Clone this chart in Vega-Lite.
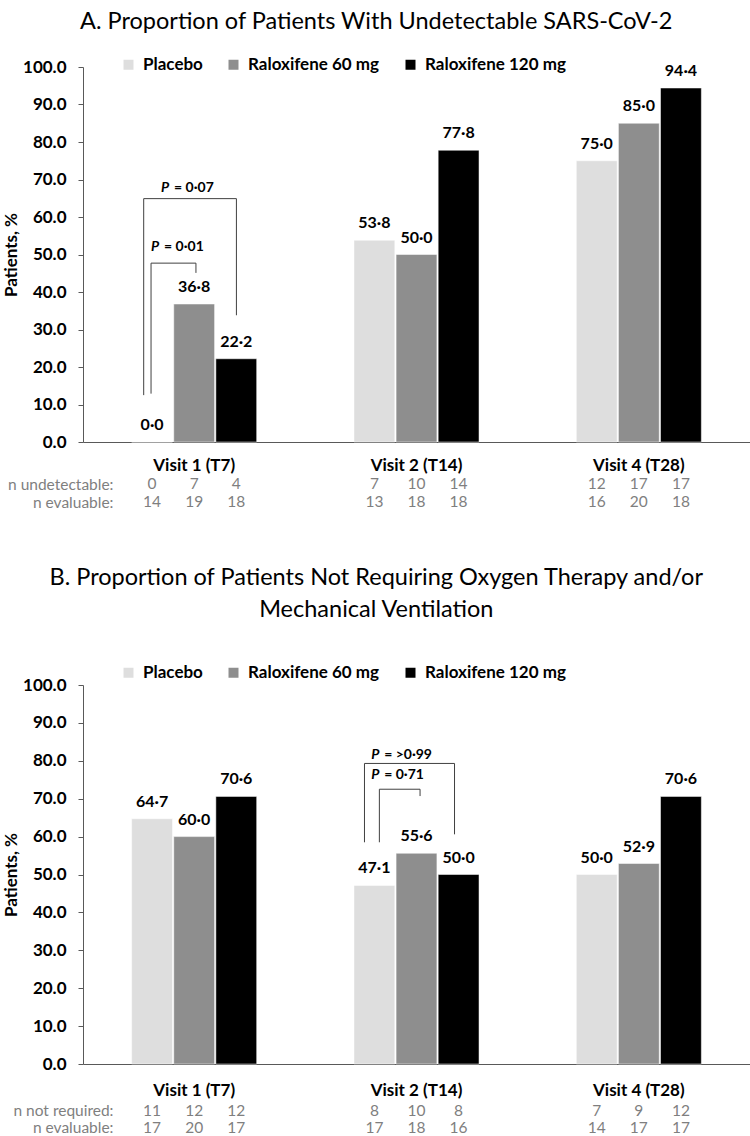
{
  "$schema": "https://vega.github.io/schema/vega-lite/v6.json",
  "padding": {"left": 2, "top": 9, "right": 0, "bottom": 0},
  "background": "white",
  "config": {
    "font": "Lato",
    "view": {"stroke": null},
    "axis": {"labelFont": "Lato", "labelFontWeight": "bold", "labelFontSize": 17, "labelColor": "#000", "domainColor": "#595959", "tickColor": "#595959", "grid": false, "titleFont": "Lato", "titleFontWeight": "bold", "titleFontSize": 17, "titleColor": "#000", "labelOverlap": false},
    "axisQuantitative": {"values": [0, 10, 20, 30, 40, 50, 60, 70, 80, 90, 100], "format": ".1f", "tickSize": 5, "labelPadding": 12, "titlePadding": 2, "labelOverlap": false},
    "title": {"font": "Lato", "fontSize": 23.5, "fontWeight": "normal", "frame": "bounds", "anchor": "middle", "color": "#000"},
    "legend": {"orient": "none", "direction": "horizontal", "columns": 3, "symbolType": "square", "symbolSize": 100, "symbolStrokeWidth": 0, "labelFont": "Lato", "labelFontWeight": "bold", "labelFontSize": 17, "labelColor": "#000", "columnPadding": 22, "labelOffset": 6}
  },
  "datasets": {
    "barsA": [
      {"visit": "Visit 1 (T7)", "group": "Placebo", "value": 0.0, "label": "0·0"},
      {"visit": "Visit 1 (T7)", "group": "Raloxifene 60 mg", "value": 36.8, "label": "36·8"},
      {"visit": "Visit 1 (T7)", "group": "Raloxifene 120 mg", "value": 22.2, "label": "22·2"},
      {"visit": "Visit 2 (T14)", "group": "Placebo", "value": 53.8, "label": "53·8"},
      {"visit": "Visit 2 (T14)", "group": "Raloxifene 60 mg", "value": 50.0, "label": "50·0"},
      {"visit": "Visit 2 (T14)", "group": "Raloxifene 120 mg", "value": 77.8, "label": "77·8"},
      {"visit": "Visit 4 (T28)", "group": "Placebo", "value": 75.0, "label": "75·0"},
      {"visit": "Visit 4 (T28)", "group": "Raloxifene 60 mg", "value": 85.0, "label": "85·0"},
      {"visit": "Visit 4 (T28)", "group": "Raloxifene 120 mg", "value": 94.4, "label": "94·4"}
    ],
    "nA": [
      {"visit": "Visit 1 (T7)", "group": "Placebo", "row": "n undetectable:", "n": 0},
      {"visit": "Visit 1 (T7)", "group": "Raloxifene 60 mg", "row": "n undetectable:", "n": 7},
      {"visit": "Visit 1 (T7)", "group": "Raloxifene 120 mg", "row": "n undetectable:", "n": 4},
      {"visit": "Visit 2 (T14)", "group": "Placebo", "row": "n undetectable:", "n": 7},
      {"visit": "Visit 2 (T14)", "group": "Raloxifene 60 mg", "row": "n undetectable:", "n": 10},
      {"visit": "Visit 2 (T14)", "group": "Raloxifene 120 mg", "row": "n undetectable:", "n": 14},
      {"visit": "Visit 4 (T28)", "group": "Placebo", "row": "n undetectable:", "n": 12},
      {"visit": "Visit 4 (T28)", "group": "Raloxifene 60 mg", "row": "n undetectable:", "n": 17},
      {"visit": "Visit 4 (T28)", "group": "Raloxifene 120 mg", "row": "n undetectable:", "n": 17},
      {"visit": "Visit 1 (T7)", "group": "Placebo", "row": "n evaluable:", "n": 14},
      {"visit": "Visit 1 (T7)", "group": "Raloxifene 60 mg", "row": "n evaluable:", "n": 19},
      {"visit": "Visit 1 (T7)", "group": "Raloxifene 120 mg", "row": "n evaluable:", "n": 18},
      {"visit": "Visit 2 (T14)", "group": "Placebo", "row": "n evaluable:", "n": 13},
      {"visit": "Visit 2 (T14)", "group": "Raloxifene 60 mg", "row": "n evaluable:", "n": 18},
      {"visit": "Visit 2 (T14)", "group": "Raloxifene 120 mg", "row": "n evaluable:", "n": 18},
      {"visit": "Visit 4 (T28)", "group": "Placebo", "row": "n evaluable:", "n": 16},
      {"visit": "Visit 4 (T28)", "group": "Raloxifene 60 mg", "row": "n evaluable:", "n": 20},
      {"visit": "Visit 4 (T28)", "group": "Raloxifene 120 mg", "row": "n evaluable:", "n": 18}
    ],
    "bracketA": [
      {"b": "outer", "i": 0, "x": 0.273, "y": 12.5},
      {"b": "outer", "i": 1, "x": 0.273, "y": 64.9},
      {"b": "outer", "i": 2, "x": 0.690, "y": 64.9},
      {"b": "outer", "i": 3, "x": 0.690, "y": 33.8},
      {"b": "inner", "i": 0, "x": 0.306, "y": 12.9},
      {"b": "inner", "i": 1, "x": 0.306, "y": 47.7},
      {"b": "inner", "i": 2, "x": 0.508, "y": 47.7},
      {"b": "inner", "i": 3, "x": 0.508, "y": 45.1}
    ],
    "pA": [
      {"x": 0.351, "y": 66.7, "t": "= 0·07"},
      {"x": 0.306, "y": 50.9, "t": "= 0·01"}
    ],
    "barsB": [
      {"visit": "Visit 1 (T7)", "group": "Placebo", "value": 64.7, "label": "64·7"},
      {"visit": "Visit 1 (T7)", "group": "Raloxifene 60 mg", "value": 60.0, "label": "60·0"},
      {"visit": "Visit 1 (T7)", "group": "Raloxifene 120 mg", "value": 70.6, "label": "70·6"},
      {"visit": "Visit 2 (T14)", "group": "Placebo", "value": 47.1, "label": "47·1"},
      {"visit": "Visit 2 (T14)", "group": "Raloxifene 60 mg", "value": 55.6, "label": "55·6"},
      {"visit": "Visit 2 (T14)", "group": "Raloxifene 120 mg", "value": 50.0, "label": "50·0"},
      {"visit": "Visit 4 (T28)", "group": "Placebo", "value": 50.0, "label": "50·0"},
      {"visit": "Visit 4 (T28)", "group": "Raloxifene 60 mg", "value": 52.9, "label": "52·9"},
      {"visit": "Visit 4 (T28)", "group": "Raloxifene 120 mg", "value": 70.6, "label": "70·6"}
    ],
    "nB": [
      {"visit": "Visit 1 (T7)", "group": "Placebo", "row": "n not required:", "n": 11},
      {"visit": "Visit 1 (T7)", "group": "Raloxifene 60 mg", "row": "n not required:", "n": 12},
      {"visit": "Visit 1 (T7)", "group": "Raloxifene 120 mg", "row": "n not required:", "n": 12},
      {"visit": "Visit 2 (T14)", "group": "Placebo", "row": "n not required:", "n": 8},
      {"visit": "Visit 2 (T14)", "group": "Raloxifene 60 mg", "row": "n not required:", "n": 10},
      {"visit": "Visit 2 (T14)", "group": "Raloxifene 120 mg", "row": "n not required:", "n": 8},
      {"visit": "Visit 4 (T28)", "group": "Placebo", "row": "n not required:", "n": 7},
      {"visit": "Visit 4 (T28)", "group": "Raloxifene 60 mg", "row": "n not required:", "n": 9},
      {"visit": "Visit 4 (T28)", "group": "Raloxifene 120 mg", "row": "n not required:", "n": 12},
      {"visit": "Visit 1 (T7)", "group": "Placebo", "row": "n evaluable:", "n": 17},
      {"visit": "Visit 1 (T7)", "group": "Raloxifene 60 mg", "row": "n evaluable:", "n": 20},
      {"visit": "Visit 1 (T7)", "group": "Raloxifene 120 mg", "row": "n evaluable:", "n": 17},
      {"visit": "Visit 2 (T14)", "group": "Placebo", "row": "n evaluable:", "n": 17},
      {"visit": "Visit 2 (T14)", "group": "Raloxifene 60 mg", "row": "n evaluable:", "n": 18},
      {"visit": "Visit 2 (T14)", "group": "Raloxifene 120 mg", "row": "n evaluable:", "n": 16},
      {"visit": "Visit 4 (T28)", "group": "Placebo", "row": "n evaluable:", "n": 14},
      {"visit": "Visit 4 (T28)", "group": "Raloxifene 60 mg", "row": "n evaluable:", "n": 17},
      {"visit": "Visit 4 (T28)", "group": "Raloxifene 120 mg", "row": "n evaluable:", "n": 17}
    ],
    "bracketB": [
      {"b": "outer", "i": 0, "x": 1.266, "y": 58.5},
      {"b": "outer", "i": 1, "x": 1.266, "y": 79.3},
      {"b": "outer", "i": 2, "x": 1.671, "y": 79.3},
      {"b": "outer", "i": 3, "x": 1.671, "y": 60.6},
      {"b": "inner", "i": 0, "x": 1.333, "y": 58.5},
      {"b": "inner", "i": 1, "x": 1.333, "y": 72.5},
      {"b": "inner", "i": 2, "x": 1.516, "y": 72.5},
      {"b": "inner", "i": 3, "x": 1.516, "y": 70.7}
    ],
    "pB": [
      {"x": 1.296, "y": 80.6, "t": "= >0·99"},
      {"x": 1.296, "y": 75.1, "t": "= 0·71"}
    ]
  },
  "resolve": {"legend": {"color": "independent"}},
  "spacing": 54,
  "vconcat": [
    {
      "spacing": 2,
      "resolve": {"legend": {"color": "independent"}},
      "vconcat": [
        {
          "title": {"text": "A. Proportion of Patients With Undetectable SARS-CoV-2", "offset": 23},
          "width": 667,
          "height": 375,
          "resolve": {"scale": {"x": "independent"}},
          "layer": [
            {
              "data": {"name": "barsA"},
              "layer": [
                {
                  "mark": {"type": "bar", "stroke": "white", "strokeWidth": 0.5},
                  "encoding": {
                    "x": {"field": "visit", "type": "nominal", "sort": ["Visit 1 (T7)", "Visit 2 (T14)", "Visit 4 (T28)"], "scale": {"paddingInner": 0.4376, "paddingOuter": 0.2188}, "axis": {"title": null, "ticks": false, "labelAngle": 0, "labelPadding": 15}},
                    "xOffset": {"field": "group", "type": "nominal", "sort": ["Placebo", "Raloxifene 60 mg", "Raloxifene 120 mg"], "scale": {"paddingInner": 0.03}},
                    "y": {"field": "value", "type": "quantitative", "title": "Patients, %", "scale": {"domain": [0, 100]}},
                    "color": {"field": "group", "type": "nominal", "sort": ["Placebo", "Raloxifene 60 mg", "Raloxifene 120 mg"], "scale": {"domain": ["Placebo", "Raloxifene 60 mg", "Raloxifene 120 mg"], "range": ["#dedede", "#8e8e8e", "#000000"]}, "legend": {"title": null, "legendX": 37, "legendY": -11}}
                  }
                },
                {
                  "mark": {"type": "text", "baseline": "alphabetic", "dy": -12, "fontWeight": "bold", "fontSize": 16, "color": "#000"},
                  "encoding": {
                    "x": {"field": "visit", "type": "nominal", "sort": ["Visit 1 (T7)", "Visit 2 (T14)", "Visit 4 (T28)"]},
                    "xOffset": {"field": "group", "type": "nominal", "sort": ["Placebo", "Raloxifene 60 mg", "Raloxifene 120 mg"]},
                    "y": {"field": "value", "type": "quantitative", "title": "Patients, %"},
                    "text": {"field": "label"}
                  }
                }
              ]
            },
            {
              "data": {"name": "bracketA"},
              "mark": {"type": "line", "color": "#404040", "strokeWidth": 1},
              "encoding": {
                "x": {"field": "x", "type": "quantitative", "scale": {"domain": [0, 3], "nice": false, "zero": false}, "axis": null},
                "y": {"field": "y", "type": "quantitative", "title": "Patients, %"},
                "detail": {"field": "b"},
                "order": {"field": "i"}
              }
            },
            {
              "data": {"name": "pA"},
              "layer": [
                {
                  "mark": {"type": "text", "align": "left", "baseline": "alphabetic", "fontWeight": "bold", "fontStyle": "italic", "fontSize": 14, "color": "#000", "text": "P"},
                  "encoding": {
                    "x": {"field": "x", "type": "quantitative", "scale": {"domain": [0, 3], "nice": false, "zero": false}, "axis": null},
                    "y": {"field": "y", "type": "quantitative", "title": "Patients, %"}
                  }
                },
                {
                  "mark": {"type": "text", "align": "left", "baseline": "alphabetic", "dx": 13, "fontWeight": "bold", "fontSize": 14, "color": "#000"},
                  "encoding": {
                    "x": {"field": "x", "type": "quantitative"},
                    "y": {"field": "y", "type": "quantitative", "title": "Patients, %"},
                    "text": {"field": "t"}
                  }
                }
              ]
            }
          ]
        },
        {
          "width": 667,
          "height": 36,
          "data": {"name": "nA"},
          "mark": {"type": "text", "fontSize": 15.5, "color": "#7f7f7f"},
          "encoding": {
            "x": {"field": "visit", "type": "nominal", "sort": ["Visit 1 (T7)", "Visit 2 (T14)", "Visit 4 (T28)"], "scale": {"type": "band", "paddingInner": 0.4376, "paddingOuter": 0.2188}, "axis": null},
            "xOffset": {"field": "group", "type": "nominal", "sort": ["Placebo", "Raloxifene 60 mg", "Raloxifene 120 mg"], "scale": {"type": "band", "paddingInner": 0.03}},
            "y": {"field": "row", "type": "nominal", "sort": ["n undetectable:", "n evaluable:"], "axis": {"title": null, "domain": false, "ticks": false, "labelPadding": -30, "labelFontWeight": "normal", "labelFontSize": 15.5, "labelColor": "#7f7f7f"}},
            "text": {"field": "n"}
          }
        }
      ]
    },
    {
      "spacing": 4,
      "resolve": {"legend": {"color": "independent"}},
      "vconcat": [
        {
          "title": {"text": ["B. Proportion of Patients Not Requiring Oxygen Therapy and/or", "Mechanical Ventilation"], "lineHeight": 32, "offset": 43},
          "width": 667,
          "height": 379,
          "resolve": {"scale": {"x": "independent"}},
          "layer": [
            {
              "data": {"name": "barsB"},
              "layer": [
                {
                  "mark": {"type": "bar", "stroke": "white", "strokeWidth": 0.5},
                  "encoding": {
                    "x": {"field": "visit", "type": "nominal", "sort": ["Visit 1 (T7)", "Visit 2 (T14)", "Visit 4 (T28)"], "scale": {"paddingInner": 0.4376, "paddingOuter": 0.2188}, "axis": {"title": null, "ticks": false, "labelAngle": 0, "labelPadding": 18}},
                    "xOffset": {"field": "group", "type": "nominal", "sort": ["Placebo", "Raloxifene 60 mg", "Raloxifene 120 mg"], "scale": {"paddingInner": 0.03}},
                    "y": {"field": "value", "type": "quantitative", "title": "Patients, %", "scale": {"domain": [0, 100]}},
                    "color": {"field": "group", "type": "nominal", "sort": ["Placebo", "Raloxifene 60 mg", "Raloxifene 120 mg"], "scale": {"domain": ["Placebo", "Raloxifene 60 mg", "Raloxifene 120 mg"], "range": ["#dedede", "#8e8e8e", "#000000"]}, "legend": {"title": null, "legendX": 37, "legendY": -21}}
                  }
                },
                {
                  "mark": {"type": "text", "baseline": "alphabetic", "dy": -12, "fontWeight": "bold", "fontSize": 16, "color": "#000"},
                  "encoding": {
                    "x": {"field": "visit", "type": "nominal", "sort": ["Visit 1 (T7)", "Visit 2 (T14)", "Visit 4 (T28)"]},
                    "xOffset": {"field": "group", "type": "nominal", "sort": ["Placebo", "Raloxifene 60 mg", "Raloxifene 120 mg"]},
                    "y": {"field": "value", "type": "quantitative", "title": "Patients, %"},
                    "text": {"field": "label"}
                  }
                }
              ]
            },
            {
              "data": {"name": "bracketB"},
              "mark": {"type": "line", "color": "#404040", "strokeWidth": 1},
              "encoding": {
                "x": {"field": "x", "type": "quantitative", "scale": {"domain": [0, 3], "nice": false, "zero": false}, "axis": null},
                "y": {"field": "y", "type": "quantitative", "title": "Patients, %"},
                "detail": {"field": "b"},
                "order": {"field": "i"}
              }
            },
            {
              "data": {"name": "pB"},
              "layer": [
                {
                  "mark": {"type": "text", "align": "left", "baseline": "alphabetic", "fontWeight": "bold", "fontStyle": "italic", "fontSize": 14, "color": "#000", "text": "P"},
                  "encoding": {
                    "x": {"field": "x", "type": "quantitative", "scale": {"domain": [0, 3], "nice": false, "zero": false}, "axis": null},
                    "y": {"field": "y", "type": "quantitative", "title": "Patients, %"}
                  }
                },
                {
                  "mark": {"type": "text", "align": "left", "baseline": "alphabetic", "dx": 13, "fontWeight": "bold", "fontSize": 14, "color": "#000"},
                  "encoding": {
                    "x": {"field": "x", "type": "quantitative"},
                    "y": {"field": "y", "type": "quantitative", "title": "Patients, %"},
                    "text": {"field": "t"}
                  }
                }
              ]
            }
          ]
        },
        {
          "width": 667,
          "height": 34,
          "data": {"name": "nB"},
          "mark": {"type": "text", "fontSize": 15.5, "color": "#7f7f7f"},
          "encoding": {
            "x": {"field": "visit", "type": "nominal", "sort": ["Visit 1 (T7)", "Visit 2 (T14)", "Visit 4 (T28)"], "scale": {"type": "band", "paddingInner": 0.4376, "paddingOuter": 0.2188}, "axis": null},
            "xOffset": {"field": "group", "type": "nominal", "sort": ["Placebo", "Raloxifene 60 mg", "Raloxifene 120 mg"], "scale": {"type": "band", "paddingInner": 0.03}},
            "y": {"field": "row", "type": "nominal", "sort": ["n not required:", "n evaluable:"], "axis": {"title": null, "domain": false, "ticks": false, "labelPadding": -30, "labelFontWeight": "normal", "labelFontSize": 15.5, "labelColor": "#7f7f7f"}},
            "text": {"field": "n"}
          }
        }
      ]
    }
  ]
}
